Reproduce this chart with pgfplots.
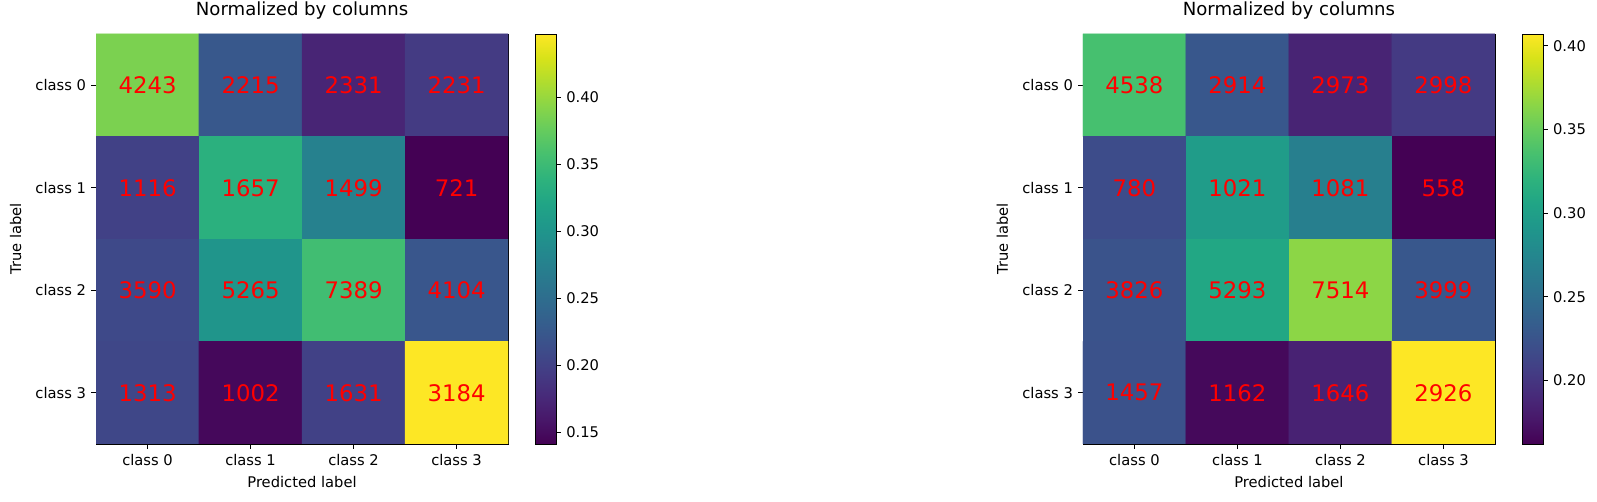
\documentclass[border=0pt]{standalone}
\usepackage{fontspec}
\setmainfont{DejaVu Sans}
\usepackage{pgfplots}
\pgfplotsset{compat=1.18}
\usepackage{pgfplotstable}

% colour values (normalized by columns), x = predicted, y = true
\pgfplotstableread{
x y c
0 0 0.386
1 0 0.224
2 0 0.172
3 0 0.193
0 1 0.200
1 1 0.335
2 1 0.275
3 1 0.141
0 2 0.208
1 2 0.300
2 2 0.353
3 2 0.222
0 3 0.206
1 3 0.147
2 3 0.200
3 3 0.447
}\leftc

\pgfplotstableread{
x y c
0 0 0.335
1 0 0.228
2 0 0.186
3 0 0.203
0 1 0.218
1 1 0.297
2 1 0.267
3 1 0.162
0 2 0.224
1 2 0.308
2 2 0.365
3 2 0.228
0 3 0.223
1 3 0.167
2 3 0.185
3 3 0.407
}\rightc

\pgfplotsset{
  /pgf/number format/assume math mode=true,
  tick label style={font=\fontsize{10}{12}\selectfont},
  label style={font=\fontsize{10}{12}\selectfont},
  cm/.style={
    scale only axis, width=280.2pt, height=278.8pt,
    anchor=south west,
    y dir=reverse,
    xmin=-0.5, xmax=3.5, ymin=-0.5, ymax=3.5,
    xtick={0,1,2,3}, ytick={0,1,2,3},
    xticklabels={class 0,class 1,class 2,class 3},
    yticklabels={class 0,class 1,class 2,class 3},
    tick align=outside, xtick pos=bottom, ytick pos=left,
    major tick length=3.3pt,
    tick style={black, line width=0.55pt},
    axis line style={line width=0.55pt},
    title={Normalized by columns},
    title style={font=\fontsize{12.3}{14}\selectfont,
      at={(0.5,1.0244)}, anchor=base},
    xlabel={Predicted label}, ylabel={True label},
    xlabel style={at={(0.5,-0.1073)}, anchor=base},
    ylabel style={at={(-0.182,0.5)}, anchor=base},
    colormap/viridis,
    colorbar,
  },
  cb/.style={
    colorbar style={
      at={(parent axis.north east)}, anchor=north west, xshift=10.2pt,
      scale only axis, width=14pt, height=278.8pt,
      tick align=outside, ytick pos=right, yticklabel pos=right,
      major tick length=3.3pt,
      tick style={black, line width=0.55pt},
      axis line style={line width=0.55pt},
      yticklabel style={/pgf/number format/fixed,
        /pgf/number format/fixed zerofill, /pgf/number format/precision=2},
      ytick={#1},
    },
  },
  lbl/.style={only marks, mark=text, text mark={#1}, color=red,
    text mark as node=true,
    text mark style={text=red, anchor=center, inner sep=0pt,
      font=\fontsize{15.5}{16}\selectfont}},
}
% one count label per cell: x, y, count
\newcommand\cell[3]{\addplot[lbl={#3}] coordinates {(#1,#2)};}

\begin{document}
\begin{tikzpicture}
\useasboundingbox (0,0) rectangle (1086pt,340.7pt);

\begin{axis}[cm, at={(65.3pt,38.8pt)},
  point meta min=0.141, point meta max=0.447,
  cb={0.15,0.20,0.25,0.30,0.35,0.40}]
  \addplot[matrix plot*, mesh/cols=4, point meta=explicit] table[meta=c] {\leftc};
  \cell{0}{0}{4243} \cell{1}{0}{2215} \cell{2}{0}{2331} \cell{3}{0}{2231}
  \cell{0}{1}{1116} \cell{1}{1}{1657} \cell{2}{1}{1499} \cell{3}{1}{721}
  \cell{0}{2}{3590} \cell{1}{2}{5265} \cell{2}{2}{7389} \cell{3}{2}{4104}
  \cell{0}{3}{1313} \cell{1}{3}{1002} \cell{2}{3}{1631} \cell{3}{3}{3184}
\end{axis}

\begin{axis}[cm, at={(736.4pt,38.8pt)},
  point meta min=0.162, point meta max=0.407,
  cb={0.20,0.25,0.30,0.35,0.40}]
  \addplot[matrix plot*, mesh/cols=4, point meta=explicit] table[meta=c] {\rightc};
  \cell{0}{0}{4538} \cell{1}{0}{2914} \cell{2}{0}{2973} \cell{3}{0}{2998}
  \cell{0}{1}{780}  \cell{1}{1}{1021} \cell{2}{1}{1081} \cell{3}{1}{558}
  \cell{0}{2}{3826} \cell{1}{2}{5293} \cell{2}{2}{7514} \cell{3}{2}{3999}
  \cell{0}{3}{1457} \cell{1}{3}{1162} \cell{2}{3}{1646} \cell{3}{3}{2926}
\end{axis}
\end{tikzpicture}
\end{document}
